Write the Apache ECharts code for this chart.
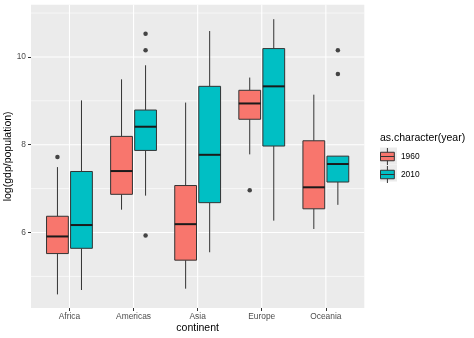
<!DOCTYPE html>
<html>
<head>
<meta charset="utf-8">
<title>log(gdp/population) by continent</title>
<script src="https://cdn.jsdelivr.net/npm/echarts@6/dist/echarts.min.js"></script>
<style>
  html, body { margin: 0; padding: 0; background: #ffffff; }
  #chart { width: 474px; height: 338px; }
</style>
</head>
<body>
<div id="chart"></div>
<script>
// ---- data ----
const continents = ['Africa', 'Americas', 'Asia', 'Europe', 'Oceania'];
const years = ['1960', '2010'];

// box statistics per continent: [lower whisker, Q1, median, Q3, upper whisker]
const stats1960 = [
  [4.59, 5.52, 5.91, 6.37, 7.49],
  [6.52, 6.87, 7.40, 8.19, 9.49],
  [4.72, 5.37, 6.19, 7.07, 8.96],
  [7.78, 8.58, 8.94, 9.24, 9.53],
  [6.08, 6.54, 7.03, 8.09, 9.14]
];
const stats2010 = [
  [4.69, 5.64, 6.17, 7.39, 9.01],
  [6.84, 7.87, 8.41, 8.79, 9.81],
  [5.55, 6.68, 7.77, 9.33, 10.59],
  [6.27, 7.97, 9.33, 10.19, 10.86],
  [6.63, 7.15, 7.56, 7.74, 7.74]
];

// outlying points: [continent index, value]
const outliers1960 = [[0, 7.72], [3, 6.96]];
const outliers2010 = [[1, 10.53], [1, 10.15], [1, 5.93], [4, 10.15], [4, 9.61]];

// axis breaks
const yBreaks = [6, 8, 10];
const yMinorBreaks = [5, 7, 9, 11];

// ---- presentation ----
const FILL = { '1960': '#F8766D', '2010': '#00BFC4' };
const DODGE = { '1960': -0.1875, '2010': 0.1875 };
const BOX_WIDTH = 0.34;
const X_MIN = 0.4, X_MAX = 5.6;
const Y_MIN = 4.28, Y_MAX = 11.19;
const FONT = '"Liberation Sans", Arial, Helvetica, sans-serif';
const catPositions = continents.map((c, i) => i + 1);

function boxRows(stats) {
  return stats.map((s, i) => [i + 1].concat(s));
}

function outlierRows(list, year) {
  return list.map(o => [o[0] + 1 + DODGE[year], o[1]]);
}

function boxRenderer(year) {
  return function (params, api) {
    const xc = api.value(0) + DODGE[year];
    const half = api.size([BOX_WIDTH, 0])[0] / 2;
    const px = api.coord([xc, api.value(3)])[0];
    const yLow = api.coord([xc, api.value(1)])[1];
    const yQ1 = api.coord([xc, api.value(2)])[1];
    const yMed = api.coord([xc, api.value(3)])[1];
    const yQ3 = api.coord([xc, api.value(4)])[1];
    const yHigh = api.coord([xc, api.value(5)])[1];
    const edge = { stroke: '#333333', lineWidth: 1 };
    return {
      type: 'group',
      children: [
        { type: 'line', shape: { x1: px, y1: yHigh, x2: px, y2: yQ3 }, style: edge },
        { type: 'line', shape: { x1: px, y1: yQ1, x2: px, y2: yLow }, style: edge },
        {
          type: 'rect',
          shape: { x: px - half, y: yQ3, width: half * 2, height: yQ1 - yQ3 },
          style: { fill: FILL[year], stroke: '#333333', lineWidth: 1 }
        },
        {
          type: 'line',
          shape: { x1: px - half, y1: yMed, x2: px + half, y2: yMed },
          style: { stroke: '#1a1a1a', lineWidth: 2 }
        }
      ]
    };
  };
}

// panel grid: kind 0 = major horizontal, 1 = minor horizontal, 2 = vertical
const gridRows = []
  .concat(yBreaks.map(v => [0, v]))
  .concat(yMinorBreaks.map(v => [1, v]))
  .concat(catPositions.map(v => [2, v]));

function gridRenderer(params, api) {
  const kind = api.value(0);
  const v = api.value(1);
  const cs = params.coordSys;
  if (kind === 2) {
    const x = api.coord([v, Y_MIN])[0];
    return {
      type: 'line',
      shape: { x1: x, y1: cs.y, x2: x, y2: cs.y + cs.height },
      style: { stroke: '#ffffff', lineWidth: 1.1 }
    };
  }
  const y = api.coord([X_MIN, v])[1];
  return {
    type: 'line',
    shape: { x1: cs.x, y1: y, x2: cs.x + cs.width, y2: y },
    style: { stroke: '#ffffff', lineWidth: kind === 0 ? 1.1 : 0.6 }
  };
}

const chart = echarts.init(document.getElementById('chart'), null, { renderer: 'canvas' });

chart.setOption({
  animation: false,
  backgroundColor: '#ffffff',
  textStyle: { fontFamily: FONT },
  grid: {
    left: 31, right: 109.7, top: 4.7, bottom: 30,
    outerBoundsMode: 'none',
    containLabel: false,
    show: true, backgroundColor: '#EBEBEB', borderWidth: 0
  },
  xAxis: {
    type: 'value',
    min: X_MIN, max: X_MAX,
    axisLine: { show: false },
    splitLine: { show: false },
    axisTick: { show: true, customValues: catPositions, length: 3, lineStyle: { color: '#333333', width: 1 } },
    axisLabel: {
      customValues: catPositions,
      formatter: v => continents[Math.round(v) - 1],
      margin: 4.5, fontSize: 8.4, color: '#4D4D4D', fontFamily: FONT
    },
    name: 'continent',
    nameLocation: 'middle',
    nameMoveOverlap: false,
    nameGap: 14.5,
    nameTextStyle: { fontSize: 10.5, color: '#000000', fontFamily: FONT }
  },
  yAxis: {
    type: 'value',
    min: Y_MIN, max: Y_MAX,
    axisLine: { show: false },
    splitLine: { show: false },
    axisTick: { show: true, customValues: yBreaks, length: 3, lineStyle: { color: '#333333', width: 1 } },
    axisLabel: {
      customValues: yBreaks,
      margin: 5, fontSize: 8.4, color: '#4D4D4D', fontFamily: FONT
    },
    name: 'log(gdp/population)',
    nameLocation: 'middle',
    nameRotate: 90,
    nameMoveOverlap: false,
    nameGap: 17,
    nameTextStyle: { fontSize: 10.5, color: '#000000', fontFamily: FONT }
  },
  legend: {
    orient: 'vertical',
    left: 380, top: 147.5,
    padding: 0,
    itemWidth: 17, itemHeight: 17, itemGap: 0,
    selectedMode: false,
    icon: 'path://M2,4.5L15,4.5L15,12.5L2,12.5ZM2,8.5L15,8.5M8.5,0.5L8.5,4.5M8.5,12.5L8.5,16.5',
    textStyle: { fontSize: 8.4, color: '#000000', fontFamily: FONT },
    data: years.map(y => ({
      name: y,
      itemStyle: { color: FILL[y], borderColor: '#333333', borderWidth: 1 }
    }))
  },
  graphic: [
    {
      type: 'text', left: 380, top: 133,
      style: { text: 'as.character(year)', fontSize: 10.5, fill: '#000000', fontFamily: FONT }
    },
    { type: 'rect', left: 380, top: 147.5, shape: { width: 17, height: 17 }, style: { fill: '#EBEBEB' }, z: -1 },
    { type: 'rect', left: 380, top: 164.5, shape: { width: 17, height: 17 }, style: { fill: '#EBEBEB' }, z: -1 }
  ],
  series: [
    {
      type: 'custom',
      name: 'panel grid',
      silent: true,
      z: 1,
      renderItem: gridRenderer,
      data: gridRows
    },
    {
      type: 'custom',
      name: '1960',
      z: 2,
      itemStyle: { color: FILL['1960'], borderColor: '#333333', borderWidth: 1 },
      encode: { x: 0, y: [1, 2, 3, 4, 5] },
      renderItem: boxRenderer('1960'),
      data: boxRows(stats1960)
    },
    {
      type: 'custom',
      name: '2010',
      z: 2,
      itemStyle: { color: FILL['2010'], borderColor: '#333333', borderWidth: 1 },
      encode: { x: 0, y: [1, 2, 3, 4, 5] },
      renderItem: boxRenderer('2010'),
      data: boxRows(stats2010)
    },
    {
      type: 'scatter',
      name: 'outliers 1960',
      z: 3,
      symbolSize: 4.5,
      itemStyle: { color: '#1a1a1a' },
      data: outlierRows(outliers1960, '1960')
    },
    {
      type: 'scatter',
      name: 'outliers 2010',
      z: 3,
      symbolSize: 4.5,
      itemStyle: { color: '#1a1a1a' },
      data: outlierRows(outliers2010, '2010')
    }
  ]
});
</script>
</body>
</html>
